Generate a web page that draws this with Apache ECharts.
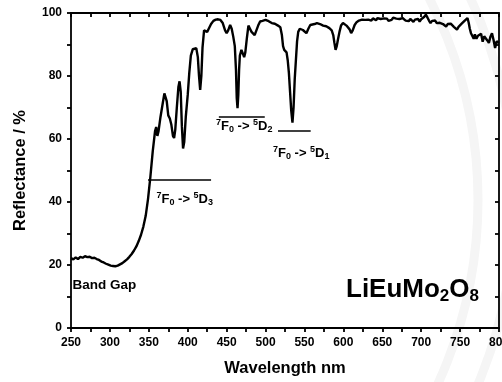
<!DOCTYPE html>
<html><head><meta charset="utf-8">
<script src="https://cdn.jsdelivr.net/npm/echarts@6/dist/echarts.min.js"></script>
<style>html,body{margin:0;padding:0;background:#fff}#c{width:502px;height:382px}</style>
</head><body><div id="c"></div>
<script>
// ---- data ----
const wavelength = [
250,253,256,259,262,265,268,271,274,277,280,283,286,289,292,295,298,301,304,307,310,313,316,319,322,325,328,331,334,337,340,343,346,349,352,355,358,359.5,361,362.5,365,368,370,371.5,373,375,377,379,381,382.5,384,386,388,389.5,391,392.5,394,395.5,397.5,400,402,404,406.5,409,411,413,414.5,416,417.5,419,421,423,425,427,430,433,436,439,442,445,448,450,452,454.5,456.5,458.5,460.5,462,463,464,465,466,467,469,471,472.5,474,476,478,480,482,484,486,488,490.5,493,496,500,504,508,512,516,519,521,522.5,524,525.5,527,528.5,530,531.5,533,534.6,536,537.5,539,540.5,542,544,546,548,550,552.5,555,557.5,560,563,566,570,574,578,582,585,587,588.5,590,591.5,593,595,597,599.5,602,604,606,608,610,612,614.5,617,620,622,624,626,628,630,632,634,636,638,640,642,644,646,648,650,652,654,656,658,660,662,664,666,668,670,672,674,676,678,680,682,684,686,688,690,692,694,696,698,700,702,704,706,708,710,712,714,716,718,720,722,724,726,728,730,732,734,736,738,740,742,744,746,748,750,752,754,756,758,759.5,761,762.5,764,766,767.5,769,771,773,775,777,779,781,783,785,787,789,791,793,795,797,798.5,800
];
const reflectance = [
22.2,21.8,22.4,21.9,22.6,22.3,22.8,22.5,22.6,22.2,22.3,21.9,21.6,21.1,20.8,20.4,20.1,19.8,19.7,19.6,19.8,20.2,20.6,21.2,21.8,22.6,23.5,24.6,25.9,27.6,29.6,32.2,35.6,41,48,56,62.5,63.8,61,62.5,67,71.5,74.5,75,72,67.5,66.5,64.5,61,60.3,63,70,76.5,78.3,75,64,57,59,67,74,81,86.5,88.5,89,88.8,86,80,75.6,80,89,94.5,95,94,95,96.5,97.5,97.9,98,97.8,96.8,94.5,93.6,94.5,96.2,95,92.5,89.5,82,73,69.8,74,82,86.5,88.3,87,86,87.5,92,96,95,94,93.5,93,93.5,96,97.3,97.5,97.8,97.4,96.8,96.6,96,95.5,93,89.5,88.3,88.5,87.5,85,81,75,69,65.2,70,79,85,91,94,95,95.2,94.6,94,93.6,95,96.2,96.8,96.5,96.8,96.5,96,95.8,95.2,94.5,93,90.5,88.3,89.5,91.5,94,96,96.8,96.5,96,95.6,94.8,93.6,94.5,96.2,97.1,97.6,97.3,97.9,98.2,97.8,98.4,97.9,98.1,97.6,98.3,98.0,97.7,98.4,97.9,98.1,97.7,98.3,97.8,98.2,97.5,98.0,97.8,98.5,97.9,98.2,97.6,98.1,97.7,98.4,98.2,97.6,98.0,97.4,98.1,97.8,97.2,97.9,97.5,98.1,97.3,98.0,97.8,98.8,99.5,98.6,97.6,96.8,97.5,97.0,97.6,96.8,97.3,96.9,97.4,96.5,96.1,95.7,96.5,95.9,96.6,96.1,95.6,95.1,94.7,95.6,96.2,96.6,97.0,97.6,98.2,98.4,97.0,95.0,93.6,93.0,91.8,93.2,91.8,92.8,92.2,93.4,90.9,92.6,92.8,91.3,90.5,92.5,93.6,91.4,88.9,91.0,91.5,90.5
];
// transition marker segments: [startNm, endNm, reflectance level]
const transitionLines = [[349, 430, 47], [440, 499, 67], [516, 558, 62.6]];
const transitionFinal = ['3', '2', '1'];
const xTickRange = {min: 250, max: 800, interval: 50};
const yTickRange = {min: 0, max: 100, interval: 20};
const xTitle = 'Wavelength nm';
const yTitle = 'Reflectance / %';
const sampleName = ['LiEuMo', '2', 'O', '8'];
const bandGapLabel = 'Band Gap';

const FONT = "'Liberation Sans', Arial, sans-serif";
const chart = echarts.init(document.getElementById('c'), null, {renderer: 'canvas'});
const black = '#000';
const lineSt = {color: black, width: 1.8};

function axisCommon(extra) {
  return Object.assign({
    type: 'value',
    axisLine: {show: true, onZero: false, lineStyle: lineSt},
    axisTick: {show: true, length: 4, lineStyle: lineSt},
    minorTick: {show: true, splitNumber: 2, length: 4, lineStyle: lineSt},
    splitLine: {show: false},
    axisLabel: {fontFamily: FONT, fontWeight: 'bold', fontSize: 12, color: black}
  }, extra);
}

const data = wavelength.map((w, i) => [w, reflectance[i]]);

const richT = {
  m: {fontFamily: FONT, fontWeight: 'bold', fontSize: 13, lineHeight: 16, fill: black, color: black},
  sup: {fontFamily: FONT, fontWeight: 'bold', fontSize: 9, verticalAlign: 'top', fill: black, color: black},
  sub: {fontFamily: FONT, fontWeight: 'bold', fontSize: 9, verticalAlign: 'bottom', fill: black, color: black}
};
function transText(k) {
  return '{sup|7}{m|F}{sub|0}{m| -> }{sup|5}{m|D}{sub|' + transitionFinal[k] + '}';
}
const transPos = [[156.5, 199.5], [216, 126.5], [273, 153]];

const option = {
  animation: false,
  backgroundColor: '#fff',
  grid: {left: 71, right: 3, top: 13, bottom: 54, containLabel: false, outerBoundsMode: 'none'},
  xAxis: [
    axisCommon(Object.assign({}, xTickRange, {
      position: 'bottom',
      axisLabel: {fontFamily: FONT, fontWeight: 'bold', fontSize: 12, color: black, margin: 9},
      name: xTitle, nameLocation: 'middle', nameGap: 32,
      nameTextStyle: {fontFamily: FONT, fontWeight: 'bold', fontSize: 16.5, color: black}
    })),
    axisCommon(Object.assign({}, xTickRange, {
      position: 'top', axisTick: {show: true, inside: true, length: 4, lineStyle: lineSt},
      axisLabel: {show: false}
    }))
  ],
  yAxis: [
    axisCommon(Object.assign({}, yTickRange, {
      position: 'left',
      axisLabel: {fontFamily: FONT, fontWeight: 'bold', fontSize: 12, color: black, margin: 9},
      name: yTitle, nameLocation: 'middle', nameGap: 42,
      nameTextStyle: {fontFamily: FONT, fontWeight: 'bold', fontSize: 16.5, color: black}
    })),
    axisCommon(Object.assign({}, yTickRange, {
      position: 'right', axisTick: {show: true, inside: true, length: 4, lineStyle: lineSt},
      axisLabel: {show: false}
    }))
  ],
  series: [{
    type: 'line',
    data: data,
    showSymbol: false,
    symbol: 'none',
    lineStyle: {color: black, width: 2.4},
    z: 5,
    markLine: {
      silent: true,
      symbol: ['none', 'none'],
      label: {show: false},
      lineStyle: {color: black, width: 1.5, type: 'solid'},
      data: transitionLines.map(t => [{coord: [t[0], t[2]]}, {coord: [t[1], t[2]]}])
    }
  }],
  graphic: [
    {type: 'circle', z: -10, silent: true, shape: {cx: 37, cy: 200, r: 441},
     style: {fill: 'none', stroke: '#f5f5f5', lineWidth: 9}},
    {type: 'circle', z: -10, silent: true, shape: {cx: 37, cy: 200, r: 478},
     style: {fill: 'none', stroke: '#f5f5f5', lineWidth: 9}},
    {type: 'text', x: 72.5, y: 285, z: 20, style: {text: bandGapLabel, font: 'bold 13.5px ' + FONT, fill: black, align: 'left', verticalAlign: 'middle'}},
    {type: 'text', x: 346, y: 290, z: 20, style: {
      text: '{m|' + sampleName[0] + '}{s|' + sampleName[1] + '}{m|' + sampleName[2] + '}{s|' + sampleName[3] + '}',
      align: 'left', verticalAlign: 'middle',
      rich: {
        m: {fontFamily: FONT, fontWeight: 'bold', fontSize: 26, lineHeight: 30, fill: black, color: black},
        s: {fontFamily: FONT, fontWeight: 'bold', fontSize: 17, verticalAlign: 'bottom', fill: black, color: black}
      }
    }}
  ].concat(transPos.map((p, k) => ({
    type: 'text', x: p[0], y: p[1], z: 20,
    style: {text: transText(k), rich: richT, align: 'left', verticalAlign: 'middle'}
  })))
};
chart.setOption(option);
</script></body></html>
